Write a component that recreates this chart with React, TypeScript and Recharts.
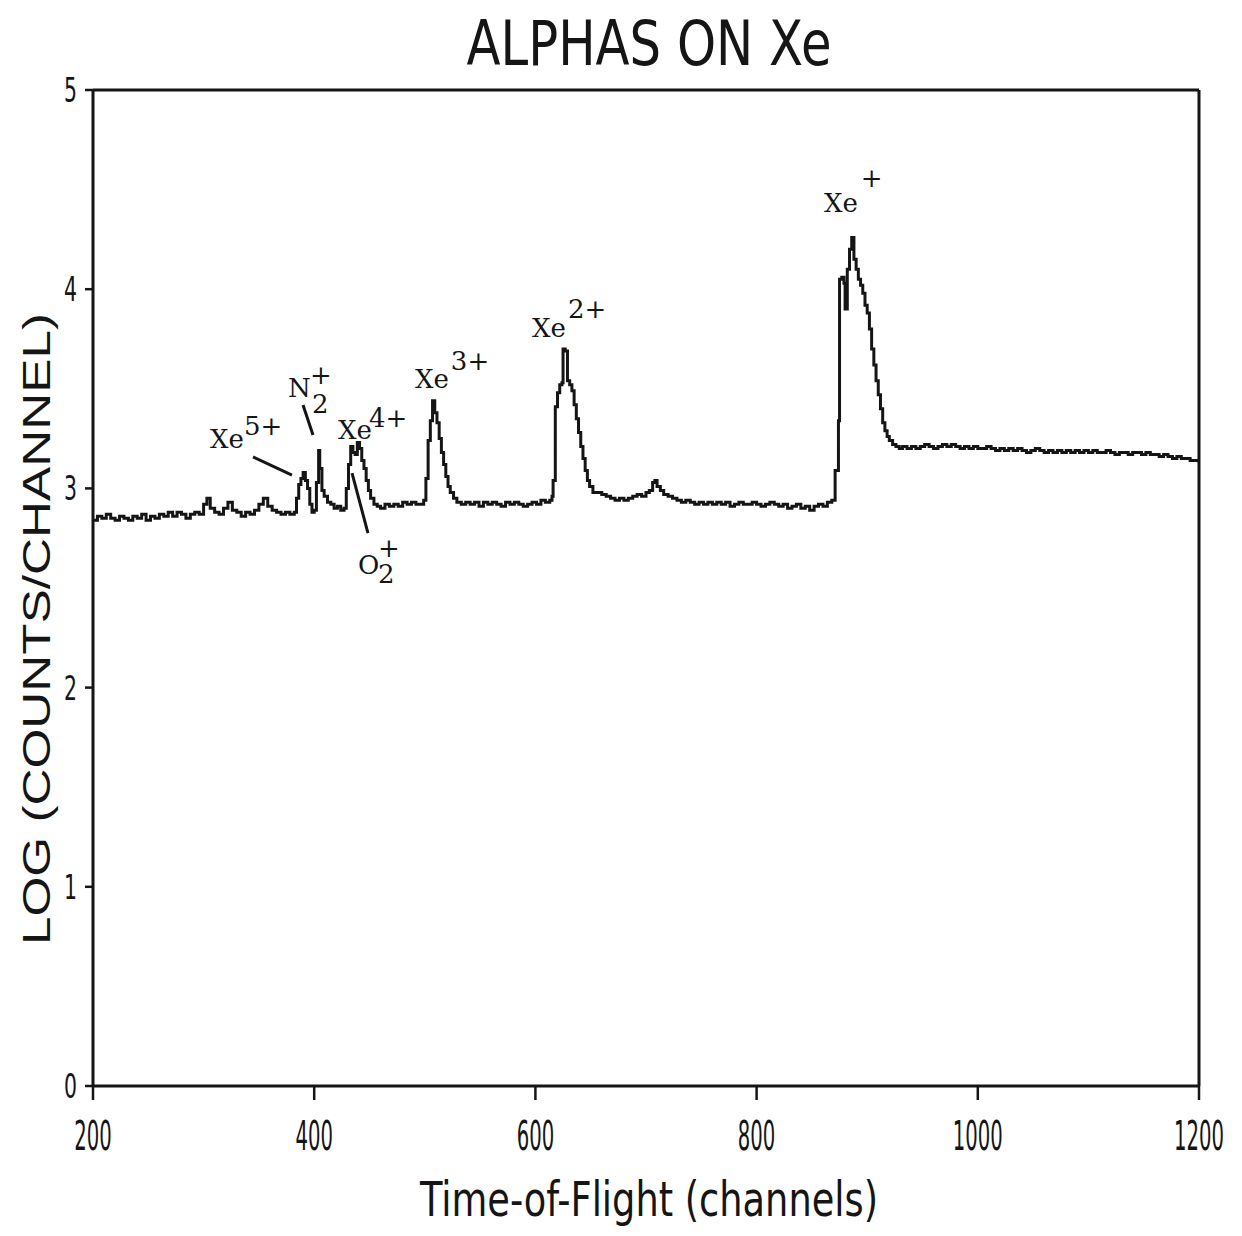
import React from 'react';
import { LineChart, Line, XAxis, YAxis, ReferenceLine, ReferenceDot, Customized } from 'recharts';

const xTicks = [200, 400, 600, 800, 1000, 1200];
const yTicks = [0, 1, 2, 3, 4, 5];

// [channel, log(counts/channel)]
const spectrum: [number, number][] = [
  [200, 2.84], [204, 2.86], [208, 2.85], [212, 2.87], [216, 2.85], [220, 2.84], [224, 2.86], [228, 2.85],
  [232, 2.84], [236, 2.86], [240, 2.85], [244, 2.87], [248, 2.84], [252, 2.86], [256, 2.85], [260, 2.87],
  [264, 2.86], [268, 2.88], [272, 2.86], [276, 2.88], [280, 2.87], [284, 2.85], [288, 2.87], [292, 2.88],
  [296, 2.87], [300, 2.92], [303, 2.95], [306, 2.90], [310, 2.88], [314, 2.87], [318, 2.90], [322, 2.93],
  [326, 2.89], [330, 2.88], [334, 2.86], [338, 2.88], [342, 2.87], [346, 2.89], [350, 2.92], [354, 2.95],
  [358, 2.91], [362, 2.89], [366, 2.88], [370, 2.87], [374, 2.88], [378, 2.87], [382, 2.88],
  [384, 2.95], [386, 3.02], [388, 3.05], [390, 3.08], [392, 3.04], [394, 3.00], [396, 2.92], [398, 2.88],
  [400, 2.89], [402, 3.03], [404, 3.19], [405, 3.10], [407, 2.99], [409, 2.96], [412, 2.93], [415, 2.92],
  [418, 2.90], [421, 2.91], [424, 2.89], [427, 2.90], [429, 3.00], [431, 3.12], [433, 3.21], [435, 3.18],
  [437, 3.17], [439, 3.23], [441, 3.20], [443, 3.14], [445, 3.10], [447, 3.04], [449, 2.99], [451, 2.95],
  [454, 2.92], [457, 2.91], [460, 2.90], [464, 2.92], [468, 2.91], [472, 2.92], [476, 2.91], [480, 2.93],
  [484, 2.92], [488, 2.93], [492, 2.92], [496, 2.92], [499, 2.94], [501, 3.05], [503, 3.24], [505, 3.34],
  [507, 3.44], [509, 3.38], [511, 3.33], [513, 3.25], [515, 3.18], [517, 3.12], [519, 3.06], [521, 3.01],
  [523, 2.98], [526, 2.95], [529, 2.93], [533, 2.92], [537, 2.93], [541, 2.92], [545, 2.93], [549, 2.91],
  [553, 2.93], [557, 2.92], [561, 2.93], [565, 2.92], [569, 2.91], [573, 2.93], [577, 2.92], [581, 2.93],
  [585, 2.92], [589, 2.91], [593, 2.92], [597, 2.93], [601, 2.92], [605, 2.94], [609, 2.93], [613, 2.94],
  [615, 2.96], [616, 3.04], [618, 3.41], [620, 3.48], [622, 3.52], [624, 3.53], [625, 3.70], [627, 3.69],
  [629, 3.54], [631, 3.52], [633, 3.49], [635, 3.42], [637, 3.35], [639, 3.28], [641, 3.21], [643, 3.15],
  [645, 3.09], [647, 3.04], [649, 3.01], [652, 2.98], [656, 2.98], [660, 2.97], [664, 2.96], [668, 2.95],
  [672, 2.94], [676, 2.95], [680, 2.94], [684, 2.95], [688, 2.96], [692, 2.97], [696, 2.96], [700, 2.98],
  [703, 2.99], [706, 3.03], [708, 3.04], [710, 3.01], [713, 2.99], [716, 2.97], [720, 2.96], [724, 2.95],
  [728, 2.94], [732, 2.93], [736, 2.94], [740, 2.93], [744, 2.92], [748, 2.93], [752, 2.92], [756, 2.93],
  [760, 2.92], [764, 2.93], [768, 2.92], [772, 2.93], [776, 2.91], [780, 2.92], [784, 2.93], [788, 2.92],
  [792, 2.92], [796, 2.93], [800, 2.92], [804, 2.91], [808, 2.92], [812, 2.93], [816, 2.92], [820, 2.91],
  [824, 2.92], [828, 2.90], [832, 2.91], [836, 2.92], [840, 2.90], [844, 2.91], [848, 2.89], [852, 2.91],
  [856, 2.92], [860, 2.91], [864, 2.93], [868, 2.94], [871, 3.09], [874, 3.34], [875, 4.05], [877, 4.06],
  [879, 4.03], [880, 3.90], [882, 4.10], [884, 4.20], [886, 4.26], [888, 4.15], [890, 4.10], [892, 4.05],
  [894, 4.02], [896, 3.98], [898, 3.92], [900, 3.88], [902, 3.80], [904, 3.70], [906, 3.62], [908, 3.54],
  [910, 3.47], [912, 3.40], [914, 3.33], [916, 3.29], [918, 3.26], [920, 3.24], [923, 3.22], [926, 3.21],
  [929, 3.20], [932, 3.21], [936, 3.20], [940, 3.21], [944, 3.20], [948, 3.21], [952, 3.22], [956, 3.21],
  [960, 3.20], [964, 3.21], [968, 3.22], [972, 3.21], [976, 3.22], [980, 3.21], [984, 3.20], [988, 3.21],
  [992, 3.20], [996, 3.21], [1000, 3.20], [1004, 3.20], [1008, 3.21], [1012, 3.20], [1016, 3.19], [1020, 3.20],
  [1024, 3.19], [1028, 3.20], [1032, 3.19], [1036, 3.20], [1040, 3.19], [1044, 3.18], [1048, 3.19], [1052, 3.20],
  [1056, 3.19], [1060, 3.18], [1064, 3.19], [1068, 3.18], [1072, 3.19], [1076, 3.18], [1080, 3.19], [1084, 3.18],
  [1088, 3.19], [1092, 3.18], [1096, 3.19], [1100, 3.18], [1104, 3.19], [1108, 3.18], [1112, 3.18], [1116, 3.19],
  [1120, 3.18], [1124, 3.17], [1128, 3.18], [1132, 3.18], [1136, 3.17], [1140, 3.18], [1144, 3.18], [1148, 3.17],
  [1152, 3.18], [1156, 3.17], [1160, 3.17], [1164, 3.16], [1168, 3.17], [1172, 3.16], [1176, 3.15], [1180, 3.16],
  [1184, 3.15], [1188, 3.15], [1192, 3.14], [1196, 3.14], [1200, 3.13],
];

// peak annotations (data coordinates)
const peakLabels = [
  { ch: 305.8, v: 3.203, base: 'Xe', sup: '5+', supDy: -13, supDx: 0 },
  { ch: 376.3, v: 3.459, base: 'N', sup: '', supDy: 0, supDx: 0 },
  { ch: 396.2, v: 3.524, base: '+', sup: '', supDy: 0, supDx: 0 },
  { ch: 398.0, v: 3.379, base: '2', sup: '', supDy: 0, supDx: 0 },
  { ch: 421.5, v: 3.248, base: 'Xe', sup: '4+', supDy: -12, supDx: -3 },
  { ch: 439.6, v: 2.570, base: 'O', sup: '', supDy: 0, supDx: 0 },
  { ch: 457.7, v: 2.656, base: '+', sup: '', supDy: 0, supDx: 0 },
  { ch: 457.7, v: 2.525, base: '2', sup: '', supDy: 0, supDx: 0 },
  { ch: 491.1, v: 3.504, base: 'Xe', sup: '3+', supDy: -18, supDx: 2 },
  { ch: 596.9, v: 3.760, base: 'Xe', sup: '2+', supDy: -19, supDx: 2 },
  { ch: 860.9, v: 4.388, base: 'Xe', sup: '+', supDy: -25, supDx: 3 },
];

const leaderLines = [
  { x1: 344.7, y1: 3.158, x2: 379.9, y2: 3.067 },
  { x1: 389.9, y1: 3.419, x2: 398.9, y2: 3.268 },
  { x1: 434.2, y1: 3.077, x2: 448.6, y2: 2.776 },
];

const data = spectrum.map(([ch, v]) => ({ ch, v }));

const INK = '#151515';

const XTick = (props: any) => {
  const { x, y, payload } = props;
  const s = String(payload.value);
  return (
    <text x={x} y={y + 48} textAnchor="middle" fontFamily="DejaVu Sans" fontSize={40}
      fill={INK} textLength={s.length * 12.5} lengthAdjust="spacingAndGlyphs">{s}</text>
  );
};

const YTick = (props: any) => {
  const { x, y, payload } = props;
  const s = String(payload.value);
  return (
    <text x={x - 6} y={y + 12} textAnchor="end" fontFamily="DejaVu Sans" fontSize={34}
      fill={INK} textLength={13} lengthAdjust="spacingAndGlyphs">{s}</text>
  );
};

const Titles = () => (
  <g>
    <text x={649} y={65} textAnchor="middle" fontFamily="DejaVu Sans" fontSize={62} fill={INK}
      textLength={365} lengthAdjust="spacingAndGlyphs">ALPHAS ON Xe</text>
    <text x={649} y={1216} textAnchor="middle" fontFamily="DejaVu Sans" fontSize={48} fill={INK}
      textLength={458} lengthAdjust="spacingAndGlyphs">Time-of-Flight (channels)</text>
    <text x={50} y={629} textAnchor="middle" fontFamily="Liberation Sans" fontSize={39} fill={INK}
      transform="rotate(-90, 50, 629)" textLength={632} lengthAdjust="spacingAndGlyphs">LOG (COUNTS/CHANNEL)</text>
  </g>
);

export default function App() {
  return (
    <div style={{ position: 'absolute', left: 0, top: 0, width: 1242, height: 1236, background: '#fff' }}>
      <LineChart width={1242} height={1236} data={data} margin={{ top: 90, right: 43, bottom: 60, left: 23 }}>
        <XAxis type="number" dataKey="ch" domain={[200, 1200]} ticks={xTicks} interval={0} allowDataOverflow
          tickSize={14} height={90} axisLine={{ stroke: INK, strokeWidth: 3 }}
          tickLine={{ stroke: INK, strokeWidth: 2.5 }} tick={<XTick />} />
        <YAxis type="number" domain={[0, 5]} ticks={yTicks} interval={0} allowDataOverflow
          tickSize={8} width={70} axisLine={{ stroke: INK, strokeWidth: 3 }}
          tickLine={{ stroke: INK, strokeWidth: 2.5 }} tick={<YTick />} />
        <ReferenceLine y={5} stroke={INK} strokeWidth={3} />
        <ReferenceLine x={1200} stroke={INK} strokeWidth={3} />
        {leaderLines.map((l, i) => (
          <ReferenceLine key={'ll' + i} segment={[{ x: l.x1, y: l.y1 }, { x: l.x2, y: l.y2 }]}
            stroke={INK} strokeWidth={3} />
        ))}
        <Line type="stepAfter" dataKey="v" stroke={INK} strokeWidth={3} dot={false}
          isAnimationActive={false} />
        {peakLabels.map((p, i) => (
          <ReferenceDot key={'pl' + i} x={p.ch} y={p.v} r={0}
            shape={(sp: any) => (
              <text x={sp.cx} y={sp.cy} fontFamily="DejaVu Serif" fontSize={26} fill={INK}>
                <tspan>{p.base}</tspan>
                {p.sup ? <tspan dx={p.supDx} dy={p.supDy}>{p.sup}</tspan> : null}
              </text>
            )} />
        ))}
        <Customized component={Titles} />
      </LineChart>
    </div>
  );
}
